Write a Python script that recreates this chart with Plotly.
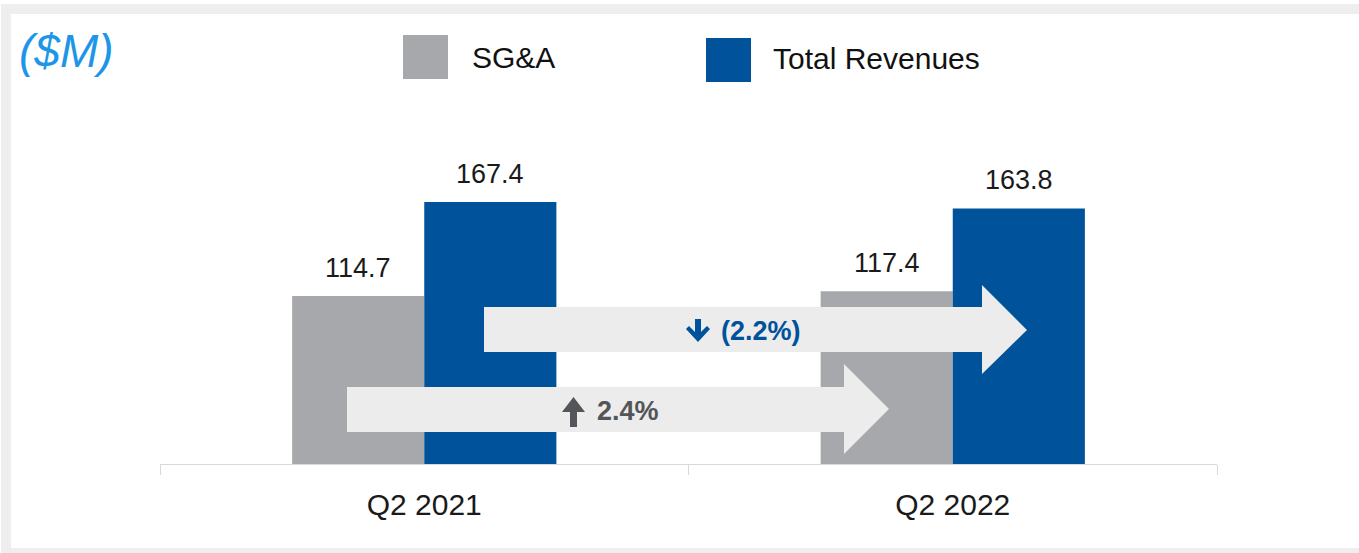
import plotly.graph_objects as go

# data
quarters = ["Q2 2021", "Q2 2022"]
sga = [114.7, 117.4]
revenues = [167.4, 163.8]
sga_change = "2.4%"
rev_change = "(2.2%)"

GRAY = "#a7a8ab"
BLUE = "#00529b"
ARROW = "#ececec"
FONT = "Liberation Sans, Arial, sans-serif"

W, H = 1359, 553
L, R, T, B = 160, 142, 100, 89
PW, PH = W - L - R, H - T - B


def px(x):
    return (x - L) / PW


def py(y):
    return (H - B - y) / PH


def path(points):
    return "M " + " L ".join(f"{px(x):.5f},{py(y):.5f}" for x, y in points) + " Z"


fig = go.Figure()
fig.add_trace(go.Bar(x=quarters, y=sga, name="SG&A", marker_color=GRAY,
                     marker_line_width=0))
fig.add_trace(go.Bar(x=quarters, y=revenues, name="Total Revenues",
                     marker_color=BLUE, marker_line_width=0))

annotations = []
for q, v in zip(quarters, sga):
    annotations.append(dict(x=q, y=v, text=f"{v:.1f}", showarrow=False,
                            xshift=-66, yshift=28, yanchor="middle",
                            font=dict(family=FONT, size=27, color="#1a1a1a")))
for q, v in zip(quarters, revenues):
    annotations.append(dict(x=q, y=v, text=f"{v:.1f}", showarrow=False,
                            xshift=66, yshift=28, yanchor="middle",
                            font=dict(family=FONT, size=27, color="#1a1a1a")))

# unit label and hand-made legend
annotations.append(dict(xref="paper", yref="paper", x=px(17), y=py(51),
                        xanchor="left", yanchor="middle", showarrow=False,
                        text="<i>($M)</i>",
                        font=dict(family=FONT, size=46, color="#1e96e8")))
annotations.append(dict(xref="paper", yref="paper", x=px(470), y=py(58),
                        xanchor="left", yanchor="middle", showarrow=False,
                        text="SG&A", font=dict(family=FONT, size=30, color="#111111")))
annotations.append(dict(xref="paper", yref="paper", x=px(771), y=py(59),
                        xanchor="left", yanchor="middle", showarrow=False,
                        text="Total Revenues",
                        font=dict(family=FONT, size=30, color="#111111")))

# change labels on the arrows
annotations.append(dict(xref="paper", yref="paper", x=px(761), y=py(331),
                        xanchor="center", yanchor="middle", showarrow=False,
                        text=f"<b>{rev_change}</b>",
                        font=dict(family=FONT, size=27, color=BLUE)))
annotations.append(dict(xref="paper", yref="paper", x=px(628), y=py(411),
                        xanchor="center", yanchor="middle", showarrow=False,
                        text=f"<b>{sga_change}</b>",
                        font=dict(family=FONT, size=27, color="#545558")))

shapes = [
    # frame
    dict(type="rect", xref="paper", yref="paper", layer="below",
         x0=px(1), x1=px(W + 5), y0=py(4), y1=py(H + 5),
         fillcolor="#eeeeee", line_width=0),
    dict(type="rect", xref="paper", yref="paper", layer="below",
         x0=px(11), x1=px(W + 5), y0=py(14), y1=py(548),
         fillcolor="white", line_width=0),
    # legend swatches
    dict(type="rect", xref="paper", yref="paper",
         x0=px(403), x1=px(448), y0=py(35), y1=py(79),
         fillcolor=GRAY, line_width=0),
    dict(type="rect", xref="paper", yref="paper",
         x0=px(706), x1=px(751), y0=py(38), y1=py(82),
         fillcolor=BLUE, line_width=0),
    # revenue arrow
    dict(type="path", xref="paper", yref="paper", layer="above",
         path=path([(484, 307), (982, 307), (982, 285), (1027, 330),
                    (982, 374), (982, 352), (484, 352)]),
         fillcolor=ARROW, line_width=0),
    # SG&A arrow
    dict(type="path", xref="paper", yref="paper", layer="above",
         path=path([(347, 387), (844, 387), (844, 364), (889, 409),
                    (844, 454), (844, 432), (347, 432)]),
         fillcolor=ARROW, line_width=0),
    # small down arrow (blue)
    dict(type="path", xref="paper", yref="paper", layer="above",
         path=path([(695, 319), (701, 319), (701, 332), (707, 326), (710, 329),
                    (698, 342), (686, 329), (689, 326), (695, 332)]),
         fillcolor=BLUE, line_width=0),
    # small up arrow (gray)
    dict(type="path", xref="paper", yref="paper", layer="above",
         path=path([(570, 427), (577, 427), (577, 412), (585, 412),
                    (573.5, 397), (562, 412), (570, 412)]),
         fillcolor="#545558", line_width=0),
]

fig.update_layout(
    width=W, height=H,
    margin=dict(l=L, r=R, t=T, b=B),
    paper_bgcolor="white",
    plot_bgcolor="rgba(0,0,0,0)",
    barmode="group",
    bargap=0.5,
    bargroupgap=0,
    showlegend=False,
    annotations=annotations,
    shapes=shapes,
    font=dict(family=FONT),
)
fig.update_xaxes(
    range=[-0.5, 1.5],
    showline=True, linecolor="#d9d9d9", linewidth=1,
    ticks="outside", tickson="boundaries", ticklen=10, tickcolor="#d9d9d9",
    tickfont=dict(family=FONT, size=30, color="#1a1a1a"),
    ticklabelstandoff=14,
    showgrid=False, zeroline=False,
)
fig.update_yaxes(range=[20.5, 20.5 + PH / 1.7837], visible=False)

fig.write_html("out.html", config={"displayModeBar": False},
               post_script="document.body.style.margin='0';document.body.style.overflow='hidden';")
